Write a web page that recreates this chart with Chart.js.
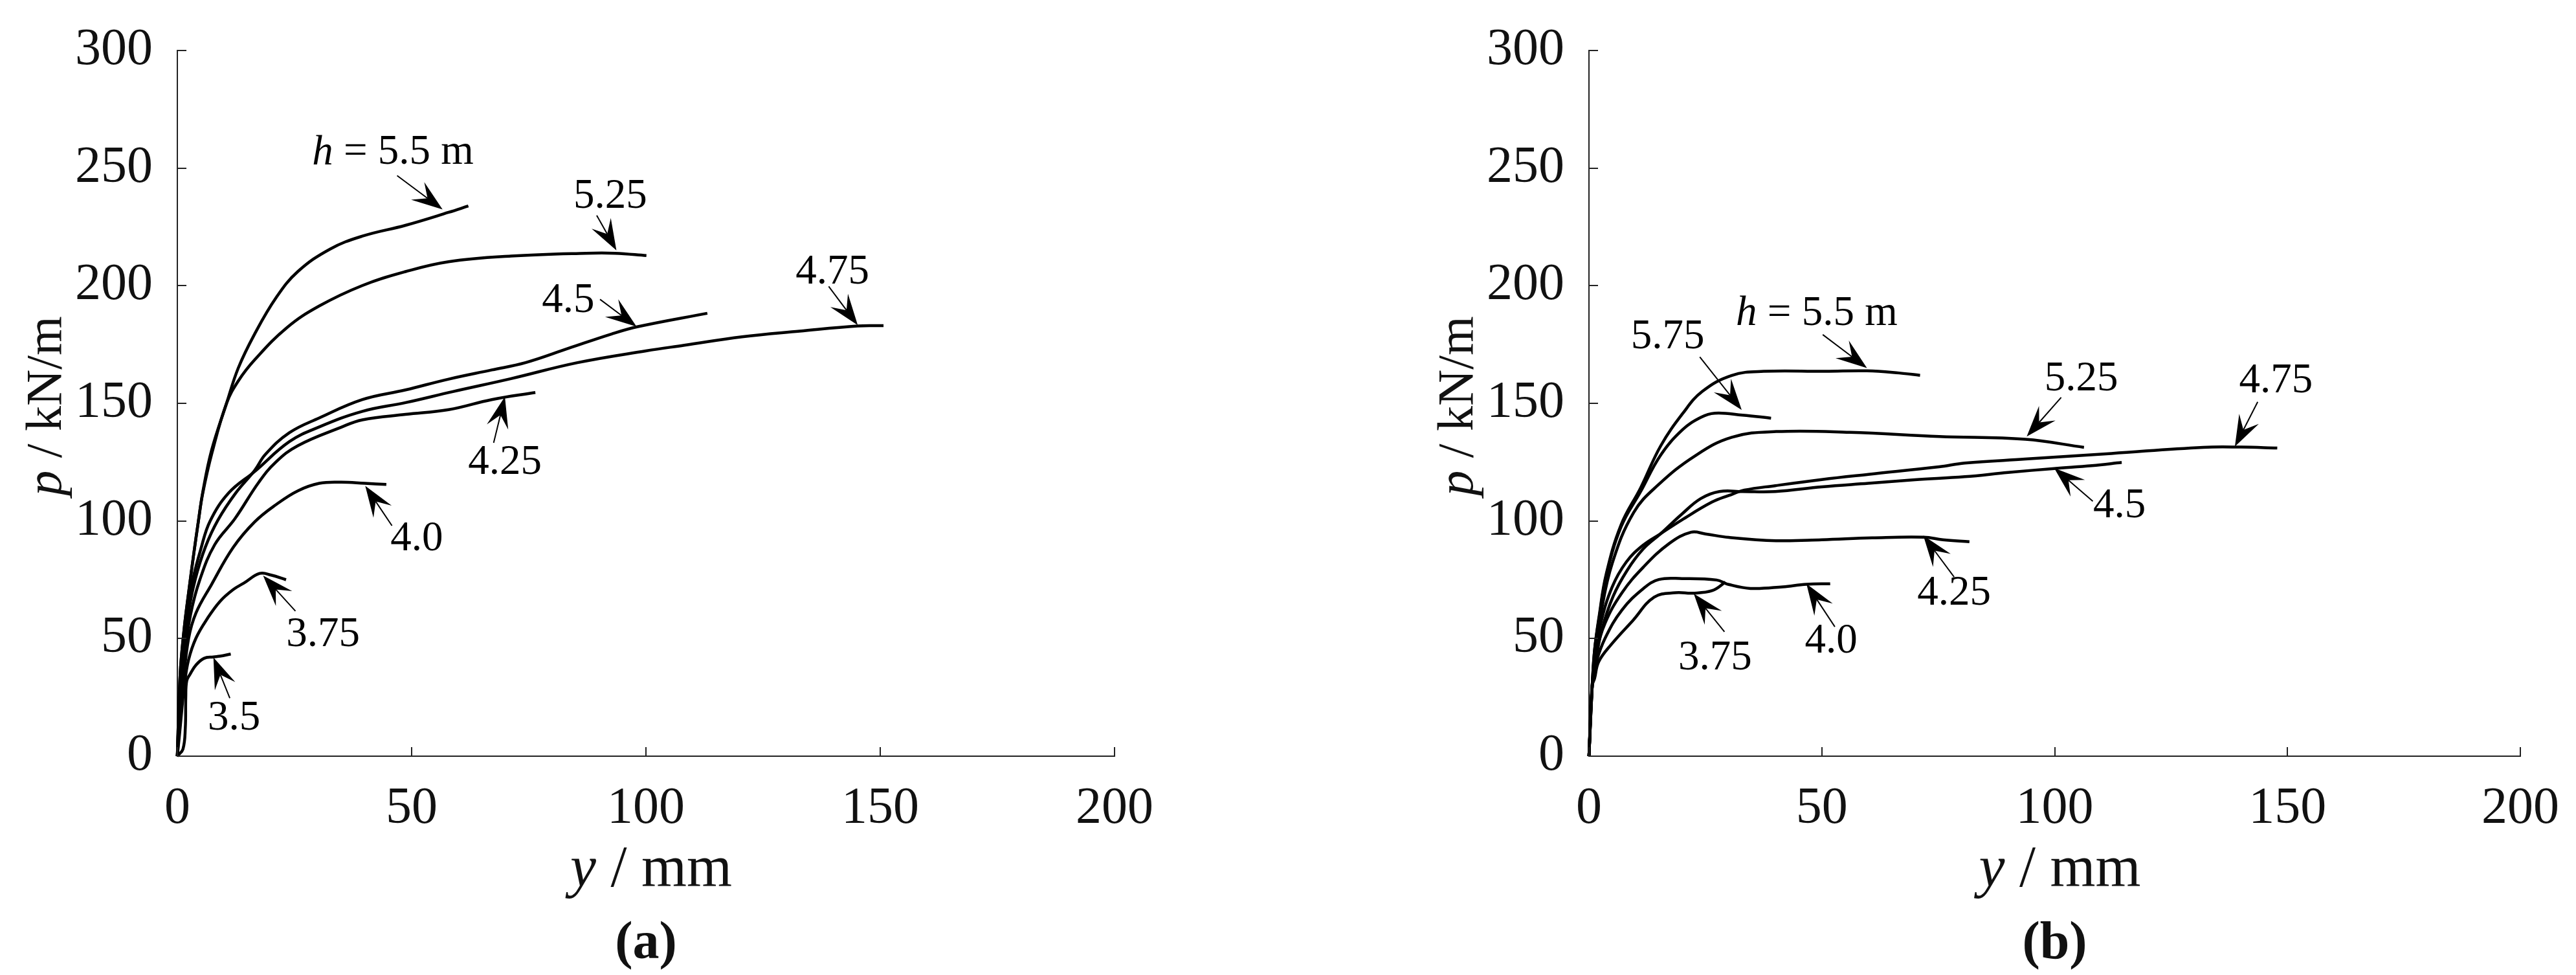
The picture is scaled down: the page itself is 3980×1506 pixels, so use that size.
<!DOCTYPE html>
<html>
<head>
<meta charset="utf-8">
<title>p-y curves</title>
<script src="https://cdn.jsdelivr.net/npm/chart.js@4.4.1/dist/chart.umd.min.js"></script>
<style>
    html, body { margin: 0; padding: 0; background: #fff; }
    #wrap { position: relative; width: 3980px; height: 1506px; }
    canvas { position: absolute; top: 0; }
    #chart-a { left: 0; }
    #chart-b { left: 1990px; }
</style>
</head>
<body>
<div id="wrap">
    <canvas id="chart-a" width="1990" height="1506"></canvas>
    <canvas id="chart-b" width="1990" height="1506"></canvas>
</div>
<script>
// Axis ticks
const xTicks = [0, 50, 100, 150, 200];
const yTicks = [0, 50, 100, 150, 200, 250, 300];

// Panel (a): deflection y (mm) and soil pressure p (kN/m), one pair per h
const a55_y  = [0, 0.3, 0.7, 1.5, 2.5, 3.5, 4.5, 5.4, 7.3, 10.5, 13, 16.5, 21.1, 25.7, 32.6, 39.5, 48.7, 57.9, 62.1];
const a55_p  = [0, 20, 38, 55, 71, 86, 100, 112, 130, 150, 165, 179.5, 195, 206, 215.6, 221.1, 225.7, 231.2, 233.9];
const a525_y = [0, 0.3, 0.7, 1.5, 2.5, 3.5, 4.5, 5.4, 7.4, 10.5, 13, 16.5, 23.4, 30.3, 39.5, 48.7, 57.9, 71.2, 87.2, 93.4, 100.1];
const a525_p = [0, 20, 38, 55, 71, 86, 100, 111.5, 129, 150, 159.5, 168.5, 182.2, 191.4, 200.1, 206, 210.2, 212.6, 213.8, 213.8, 212.8];
const a475_y = [0, 0.4, 1, 2, 3.3, 5, 7, 11, 16.5, 23.9, 30.3, 39.5, 48.7, 58.8, 71.2, 85.4, 100, 108.2, 120.5, 132.8, 145.2, 150.7];
const a475_p = [0, 20, 40, 60, 75, 88, 100, 112, 121, 133.7, 140, 146.6, 150.3, 155, 160.5, 167.3, 172.3, 174.7, 178.3, 180.7, 182.9, 183];
const a45_y  = [0, 0.4, 1.1, 2.3, 3.8, 6, 8.7, 12.5, 16.5, 18.8, 23.9, 30.3, 39.5, 48.7, 57.9, 67.1, 74.3, 83.5, 92.7, 98.3, 113.1];
const a45_p  = [0, 20, 40, 60, 75, 89, 100.5, 112, 121.5, 128.3, 137.5, 143.8, 151.6, 155.7, 160.3, 164.2, 167.3, 173.4, 179.5, 182.6, 188.3];
const a425_y = [0, 0.5, 1.3, 2.8, 4.8, 8, 12.3, 17.4, 21, 25.7, 34.9, 39.5, 48.7, 57.9, 67.1, 76.4];
const a425_p = [0, 20, 40, 60, 75, 90, 101, 116.5, 125, 132, 139.8, 143, 145.3, 147.3, 151.6, 154.6];
const a40_y  = [0, 0.5, 1.2, 2.4, 4, 7.3, 11.9, 16.5, 21.1, 25.7, 30.3, 35, 40, 44.6];
const a40_p  = [0, 15, 30, 50, 61, 73, 88.7, 99.6, 107, 112.8, 116, 116.5, 116, 115.5];
const a375_y = [0, 0.5, 1.5, 2.4, 4, 6.4, 9.1, 11.9, 14.2, 17.6, 20, 23.2];
const a375_p = [0, 10, 30, 41, 50.3, 58.5, 65.8, 70.8, 73.6, 77.7, 77, 75];
const a35_y  = [0, 1.2, 1.7, 1.8, 2, 2.7, 4, 5.7, 7.7, 9.1, 11.4];
const a35_p  = [0, 3, 12, 25, 32, 34.8, 38.8, 41.6, 42.2, 42.5, 43.4];

// Panel (b)
const b55_y  = [0, 0.7, 1.2, 2.2, 3.7, 6.9, 11.1, 15.4, 20.1, 24.3, 30.7, 37.5, 50.8, 59.7, 66.6, 71.1];
const b55_p  = [0, 30, 45, 59.8, 77.4, 98.4, 114.1, 131.9, 145.6, 155, 161.9, 163.6, 163.6, 163.8, 162.9, 161.9];
const b575_y = [0, 0.7, 1.2, 2.2, 3.7, 6.9, 11.1, 15.4, 20.1, 24, 27, 33, 39.1];
const b575_p = [0, 30, 45, 59, 76.5, 97.5, 112.5, 128, 138.8, 144, 145.8, 145, 143.7];
const b525_y = [0, 0.7, 1.2, 2.5, 5, 9.6, 14.8, 22.8, 30.7, 40.2, 56, 75.2, 93.7, 106.3];
const b525_p = [0, 30, 43, 60, 82, 103.6, 115.2, 127.7, 135.6, 138, 137.7, 135.9, 134.7, 131.3];
const b475_y = [0, 0.7, 1.3, 2.6, 5, 8, 11.5, 15.4, 20, 26.4, 30, 33.4, 40, 50, 60, 75.2, 80.7, 93.7, 112.2, 131.9, 140, 147.8];
const b475_p = [0, 30, 42, 57, 72, 82.5, 89.5, 94.6, 100.5, 108, 110.8, 113.1, 115, 117.6, 119.8, 123, 124.6, 126.3, 128.7, 131.3, 131.4, 131];
const b45_y  = [0, 0.7, 1.4, 2.8, 5.2, 8.2, 11.6, 15.4, 20, 24, 28, 33, 40, 50, 60, 70, 80.7, 90, 99.9, 108, 114.4];
const b45_p  = [0, 30, 40, 54, 68, 79, 88, 94.6, 103, 109.5, 112.5, 112.5, 112.5, 114.5, 116, 117.5, 118.8, 120.6, 122.3, 123.5, 124.9];
const b425_y = [0, 0.7, 1.6, 3.5, 7.1, 11.7, 17.3, 21.9, 25, 30, 40.2, 50, 60.8, 71.9, 76, 81.7];
const b425_p = [0, 30, 43.9, 56.7, 69.5, 80.4, 90.5, 95.2, 94.5, 93, 91.6, 92, 92.8, 93.1, 92, 91.2];
const b40_y  = [0, 0.7, 1.6, 3.5, 7.1, 11.7, 15, 20, 27.4, 30, 34.7, 41.6, 46.7, 51.8];
const b40_p  = [0, 31, 40.2, 50.3, 62.2, 71.3, 75.1, 75.5, 74.9, 73, 71.3, 72, 73.1, 73.3];
const b375_y = [0, 0.7, 1.2, 2.1, 4.8, 9.4, 14, 18.6, 22.3, 26.5, 29.3];
const b375_p = [0, 30, 33, 40.2, 47.5, 57.6, 67.6, 69.5, 69.3, 70.4, 74];

// Curve labels (data units): text centre, arrow tail, arrow tip
const aNoteText = ['h = 5.5 m', '5.25', '4.5', '4.75', '4.25', '4.0', '3.75', '3.5'];
const aNoteX = [46, 92.4, 83.4, 139.8, 69.9, 51.1, 31.1, 12.1];
const aNoteY = [256.4, 237.7, 193.6, 205.5, 124.8, 92.1, 51.4, 16];
const aTailX = [46.9, 89.5, 90.2, 139, 67.5, 45.8, 25.2, 11.2];
const aTailY = [246.8, 229.9, 194.2, 199.7, 133.2, 98, 61.7, 24.7];
const aTipX  = [56.6, 93.7, 98, 145.2, 69.9, 40.1, 18.3, 7.7];
const aTipY  = [232.4, 215, 182.6, 183.2, 152.8, 114.9, 76.8, 42];

const bNoteText = ['h = 5.5 m', '5.75', '5.25', '4.75', '4.5', '4.25', '4.0', '3.75'];
const bNoteX = [48.9, 16.9, 105.7, 147.5, 113.9, 78.4, 52, 27.1];
const bNoteY = [188.1, 178.1, 160.1, 159.5, 106.3, 69.1, 48.7, 41.7];
const bTailX = [50.2, 23.8, 101.4, 143.6, 108.2, 78.4, 52.8, 29.1];
const bTailY = [179.2, 169.7, 152.5, 150.6, 108.4, 76.2, 55, 52.9];
const bTipX  = [59.7, 32.8, 94, 138.7, 99.9, 71.8, 46.7, 22.5];
const bTipY  = [165, 147.2, 135.9, 131.6, 122.5, 93.8, 73.3, 69.1];

const SERIF = "'Liberation Serif', 'Times New Roman', serif";

function toPoints(xs, ys) {
    return xs.map((v, i) => ({ x: v, y: ys[i] }));
}

function drawArrow(ctx, x0, y0, x1, y1) {
    const ang = Math.atan2(y1 - y0, x1 - x0);
    const c = Math.cos(ang), s = Math.sin(ang);
    const L = 48, W = 17, N = 29;
    const bx = x1 - N * c, by = y1 - N * s;
    ctx.beginPath();
    ctx.moveTo(x0, y0);
    ctx.lineTo(bx, by);
    ctx.stroke();
    ctx.beginPath();
    ctx.moveTo(x1, y1);
    ctx.lineTo(x1 - L * c - W * s, y1 - L * s + W * c);
    ctx.lineTo(bx, by);
    ctx.lineTo(x1 - L * c + W * s, y1 - L * s - W * c);
    ctx.closePath();
    ctx.fill();
}

// draws runs of text [str, italic?] centred on x
function drawRuns(ctx, runs, x, y, size) {
    let total = 0;
    runs.forEach(r => {
        ctx.font = (r[1] ? 'italic ' : '') + size + 'px ' + SERIF;
        total += ctx.measureText(r[0]).width;
    });
    let cx = x - total / 2;
    runs.forEach(r => {
        ctx.font = (r[1] ? 'italic ' : '') + size + 'px ' + SERIF;
        ctx.fillText(r[0], cx, y);
        cx += ctx.measureText(r[0]).width;
    });
}

// inward ticks, axis titles, panel letter and the arrow labels
const decorPlugin = {
    id: 'decor',
    afterDraw(chart, args, opts) {
        const { ctx, chartArea: area, scales: { x, y } } = chart;
        ctx.save();
        ctx.strokeStyle = '#222';
        ctx.lineWidth = 2;
        x.ticks.forEach(t => {
            const px = Math.round(x.getPixelForValue(t.value));
            ctx.beginPath();
            ctx.moveTo(px, area.bottom);
            ctx.lineTo(px, area.bottom - 14);
            ctx.stroke();
        });
        y.ticks.forEach(t => {
            const py = Math.round(y.getPixelForValue(t.value));
            ctx.beginPath();
            ctx.moveTo(area.left, py);
            ctx.lineTo(area.left + 14, py);
            ctx.stroke();
        });

        ctx.fillStyle = '#111';
        ctx.textAlign = 'left';
        ctx.textBaseline = 'alphabetic';
        const midX = (area.left + area.right) / 2;
        drawRuns(ctx, [['y', true], [' / mm', false]], midX + 8, area.bottom + 201, 90);

        ctx.save();
        ctx.translate(area.left - 180, (area.top + area.bottom) / 2 + 4);
        ctx.rotate(-Math.PI / 2);
        drawRuns(ctx, [['p', true], [' / kN/m', false]], 0, 0, 78);
        ctx.restore();

        ctx.font = 'bold 82px ' + SERIF;
        ctx.textAlign = 'center';
        ctx.fillText(opts.letter, midX, area.bottom + 312);

        // labels with arrows
        ctx.fillStyle = '#000';
        ctx.strokeStyle = '#000';
        ctx.lineWidth = 2;
        opts.text.forEach((txt, i) => {
            const lx = x.getPixelForValue(opts.nx[i]);
            const ly = y.getPixelForValue(opts.ny[i]);
            ctx.textAlign = 'left';
            ctx.textBaseline = 'middle';
            if (txt.startsWith('h ')) {
                drawRuns(ctx, [['h', true], [txt.slice(1), false]], lx, ly, 65);
            } else {
                drawRuns(ctx, [[txt, false]], lx, ly, 65);
            }
            drawArrow(ctx,
                x.getPixelForValue(opts.tx[i]), y.getPixelForValue(opts.ty[i]),
                x.getPixelForValue(opts.px[i]), y.getPixelForValue(opts.py[i]));
        });
        ctx.restore();
    }
};

function makePanel(canvasId, curves, notes, letter, yAxisWidth, padRight) {
    const datasets = curves.map(c => ({
        data: toPoints(c[0], c[1]),
        showLine: true,
        borderColor: '#000',
        borderWidth: 4.5,
        pointRadius: 0,
        tension: 0.4,
        fill: false,
        clip: false
    }));

    return new Chart(document.getElementById(canvasId), {
        type: 'scatter',
        data: { datasets },
        options: {
            responsive: false,
            animation: false,
            devicePixelRatio: 1,
            layout: { padding: { left: 0, top: 74, right: padRight, bottom: 0 } },
            plugins: {
                legend: { display: false },
                tooltip: { enabled: false },
                decor: Object.assign({ letter }, notes)
            },
            scales: {
                x: {
                    type: 'linear',
                    min: xTicks[0],
                    max: xTicks[xTicks.length - 1],
                    afterBuildTicks: s => { s.ticks = xTicks.map(v => ({ value: v })); },
                    afterFit: s => { s.height = 338; },
                    grid: { display: false },
                    border: { display: true, color: '#222', width: 2 },
                    ticks: { padding: 26, color: '#111', maxRotation: 0, font: { family: SERIF, size: 80 } }
                },
                y: {
                    type: 'linear',
                    min: yTicks[0],
                    max: yTicks[yTicks.length - 1],
                    afterBuildTicks: s => { s.ticks = yTicks.map(v => ({ value: v })); },
                    afterFit: s => { s.width = yAxisWidth; },
                    grid: { display: false },
                    border: { display: true, color: '#222', width: 2 },
                    ticks: { padding: 30, color: '#111', font: { family: SERIF, size: 80 } }
                }
            }
        },
        plugins: [decorPlugin]
    });
}

function initCharts() {
    makePanel('chart-a',
        [[a55_y, a55_p], [a525_y, a525_p], [a475_y, a475_p], [a45_y, a45_p],
         [a425_y, a425_p], [a40_y, a40_p], [a375_y, a375_p], [a35_y, a35_p]],
        { text: aNoteText, nx: aNoteX, ny: aNoteY, tx: aTailX, ty: aTailY, px: aTipX, py: aTipY },
        '(a)', 274, 268);

    makePanel('chart-b',
        [[b55_y, b55_p], [b575_y, b575_p], [b525_y, b525_p], [b475_y, b475_p],
         [b45_y, b45_p], [b425_y, b425_p], [b40_y, b40_p], [b375_y, b375_p]],
        { text: bNoteText, nx: bNoteX, ny: bNoteY, tx: bTailX, ty: bTailY, px: bTipX, py: bTipY },
        '(b)', 465, 76);
}

document.addEventListener('DOMContentLoaded', initCharts);
</script>
</body>
</html>
